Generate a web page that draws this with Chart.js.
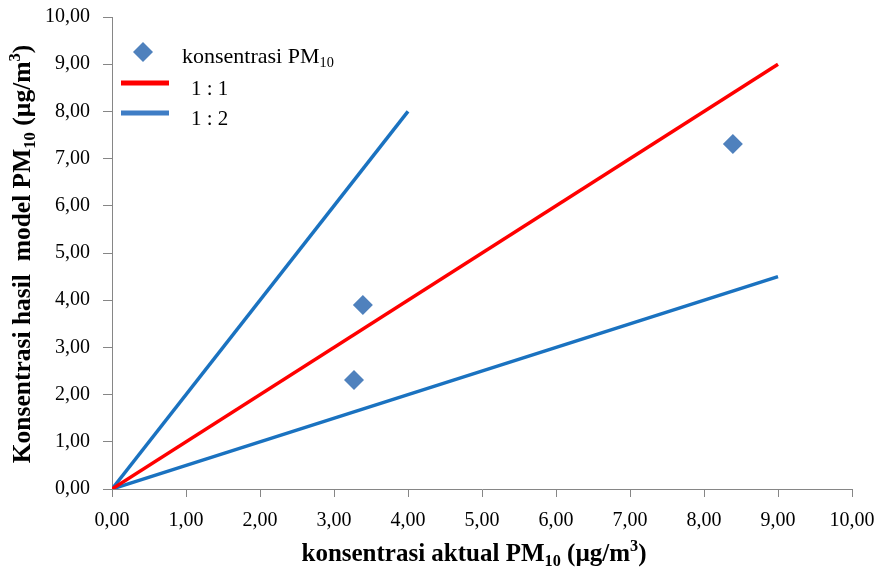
<!DOCTYPE html>
<html>
<head>
<meta charset="utf-8">
<script src="https://cdn.jsdelivr.net/npm/chart.js@4/dist/chart.umd.min.js"></script>
<style>
html,body{margin:0;padding:0;background:#fff;}
#wrap{width:875px;height:583px;position:relative;}
</style>
</head>
<body>
<div id="wrap"><canvas id="c" width="875" height="583"></canvas></div>
<script>
// Data
const pmActual = [3.39, 3.27, 8.39];
const pmModel  = [3.90, 2.31, 7.31];
const line11X = [0, 9];
const line11Y = [0, 9];
const line12aX = [0, 4];
const line12aY = [0, 8];
const line12bX = [0, 9];
const line12bY = [0, 4.5];
const tickLabels = ['0,00','1,00','2,00','3,00','4,00','5,00','6,00','7,00','8,00','9,00','10,00'];
const legendLabels = ['konsentrasi PM', '1 : 1', '1 : 2'];

const toPts = (xs, ys) => xs.map((x, i) => ({x: x, y: ys[i]}));

const FONT = '"Liberation Serif", "Times New Roman", serif';
const scatterColor = '#4F81BD';
const redColor = '#FF0000';
const blueColor = '#1A72C0';

function drawSubText(ctx, parts, x, y, size, bold, align) {
  const w = parts.map(p => {
    const fs = p.s === 'n' ? size : size * 0.65;
    ctx.font = (bold ? 'bold ' : '') + fs + 'px ' + FONT;
    return ctx.measureText(p.t).width;
  });
  const total = w.reduce((a, b) => a + b, 0);
  let cx = align === 'center' ? x - total / 2 : x;
  ctx.textAlign = 'left';
  ctx.textBaseline = 'alphabetic';
  parts.forEach((p, i) => {
    const fs = p.s === 'n' ? size : size * 0.65;
    ctx.font = (bold ? 'bold ' : '') + fs + 'px ' + FONT;
    let dy = 0;
    if (p.s === 'sub') dy = size * 0.2;
    if (p.s === 'sup') dy = -size * 0.4;
    ctx.fillText(p.t, cx, y + dy);
    cx += w[i];
  });
}

const decor = {
  id: 'decor',
  afterDraw(chart) {
    const ctx = chart.ctx;
    ctx.save();
    ctx.fillStyle = '#000';
    // X title
    drawSubText(ctx, [
      {t: 'konsentrasi aktual PM', s: 'n'}, {t: '10', s: 'sub'}, {t: ' (µg/m', s: 'n'}, {t: '3', s: 'sup'}, {t: ')', s: 'n'}
    ], 474, 561, 25, true, 'center');
    // Y title
    ctx.save();
    ctx.translate(30, 254);
    ctx.rotate(-Math.PI / 2);
    drawSubText(ctx, [
      {t: 'Konsentrasi hasil  model PM', s: 'n'}, {t: '10', s: 'sub'}, {t: ' (µg/m', s: 'n'}, {t: '3', s: 'sup'}, {t: ')', s: 'n'}
    ], 0, 0, 25.5, true, 'center');
    ctx.restore();

    // Legend
    ctx.fillStyle = scatterColor;
    ctx.beginPath();
    ctx.moveTo(143, 42); ctx.lineTo(153, 52); ctx.lineTo(143, 62); ctx.lineTo(133, 52); ctx.closePath();
    ctx.fill();
    ctx.fillStyle = '#000';
    drawSubText(ctx, [{t: legendLabels[0], s: 'n'}, {t: '10', s: 'sub'}], 182, 63, 22, false, 'left');
    ctx.lineWidth = 5;
    ctx.strokeStyle = redColor;
    ctx.beginPath(); ctx.moveTo(121, 83); ctx.lineTo(169, 83); ctx.stroke();
    ctx.strokeStyle = '#3F7DC5';
    ctx.beginPath(); ctx.moveTo(121, 113); ctx.lineTo(169, 113); ctx.stroke();
    ctx.fillStyle = '#000';
    ctx.font = '21px ' + FONT;
    ctx.textBaseline = 'alphabetic';
    ctx.fillText(legendLabels[1], 191, 95);
    ctx.fillText(legendLabels[2], 191, 125);
    ctx.restore();
  }
};

new Chart(document.getElementById('c'), {
  type: 'scatter',
  data: {
    datasets: [
      {
        label: '1 : 1', data: toPts(line11X, line11Y), showLine: true,
        borderColor: redColor, borderWidth: 3.5, pointRadius: 0, order: 2
      },
      {
        label: '1 : 2', data: toPts(line12aX, line12aY), showLine: true,
        borderColor: blueColor, borderWidth: 3.5, pointRadius: 0, order: 3
      },
      {
        label: '1 : 2b', data: toPts(line12bX, line12bY), showLine: true,
        borderColor: blueColor, borderWidth: 3.5, pointRadius: 0, order: 3
      },
      {
        label: 'konsentrasi PM10', data: toPts(pmActual, pmModel),
        pointStyle: 'rectRot', pointRadius: 10, pointBackgroundColor: scatterColor,
        pointBorderColor: scatterColor, pointBorderWidth: 0, order: 1
      }
    ]
  },
  options: {
    responsive: false,
    animation: false,
    layout: { autoPadding: false, padding: { top: 17, right: 23, left: 0, bottom: 0 } },
    plugins: { legend: { display: false }, tooltip: { enabled: false } },
    scales: {
      x: {
        type: 'linear', min: 0, max: 10,
        afterFit(s) { s.height = 94; s.paddingLeft = 0; s.paddingRight = 0; },
        afterBuildTicks(s) { s.ticks = tickLabels.map((_, i) => ({value: i})); },
        grid: { drawOnChartArea: false, drawTicks: true, tickLength: 8, color: '#868686', lineWidth: 1 },
        border: { color: '#868686', width: 1 },
        ticks: {
          padding: 12, color: '#000', maxRotation: 0, autoSkip: false,
          font: { family: FONT, size: 20 },
          callback: (v) => tickLabels[Math.round(v)]
        }
      },
      y: {
        type: 'linear', min: 0, max: 10,
        afterFit(s) { s.width = 112; s.paddingTop = 0; s.paddingBottom = 0; },
        afterBuildTicks(s) { s.ticks = tickLabels.map((_, i) => ({value: i})); },
        grid: { drawOnChartArea: false, drawTicks: true, tickLength: 9, color: '#868686', lineWidth: 1 },
        border: { color: '#868686', width: 1 },
        ticks: {
          padding: 13, color: '#000', autoSkip: false,
          font: { family: FONT, size: 20 },
          callback: (v) => tickLabels[Math.round(v)]
        }
      }
    }
  },
  plugins: [decor]
});
</script>
</body>
</html>
